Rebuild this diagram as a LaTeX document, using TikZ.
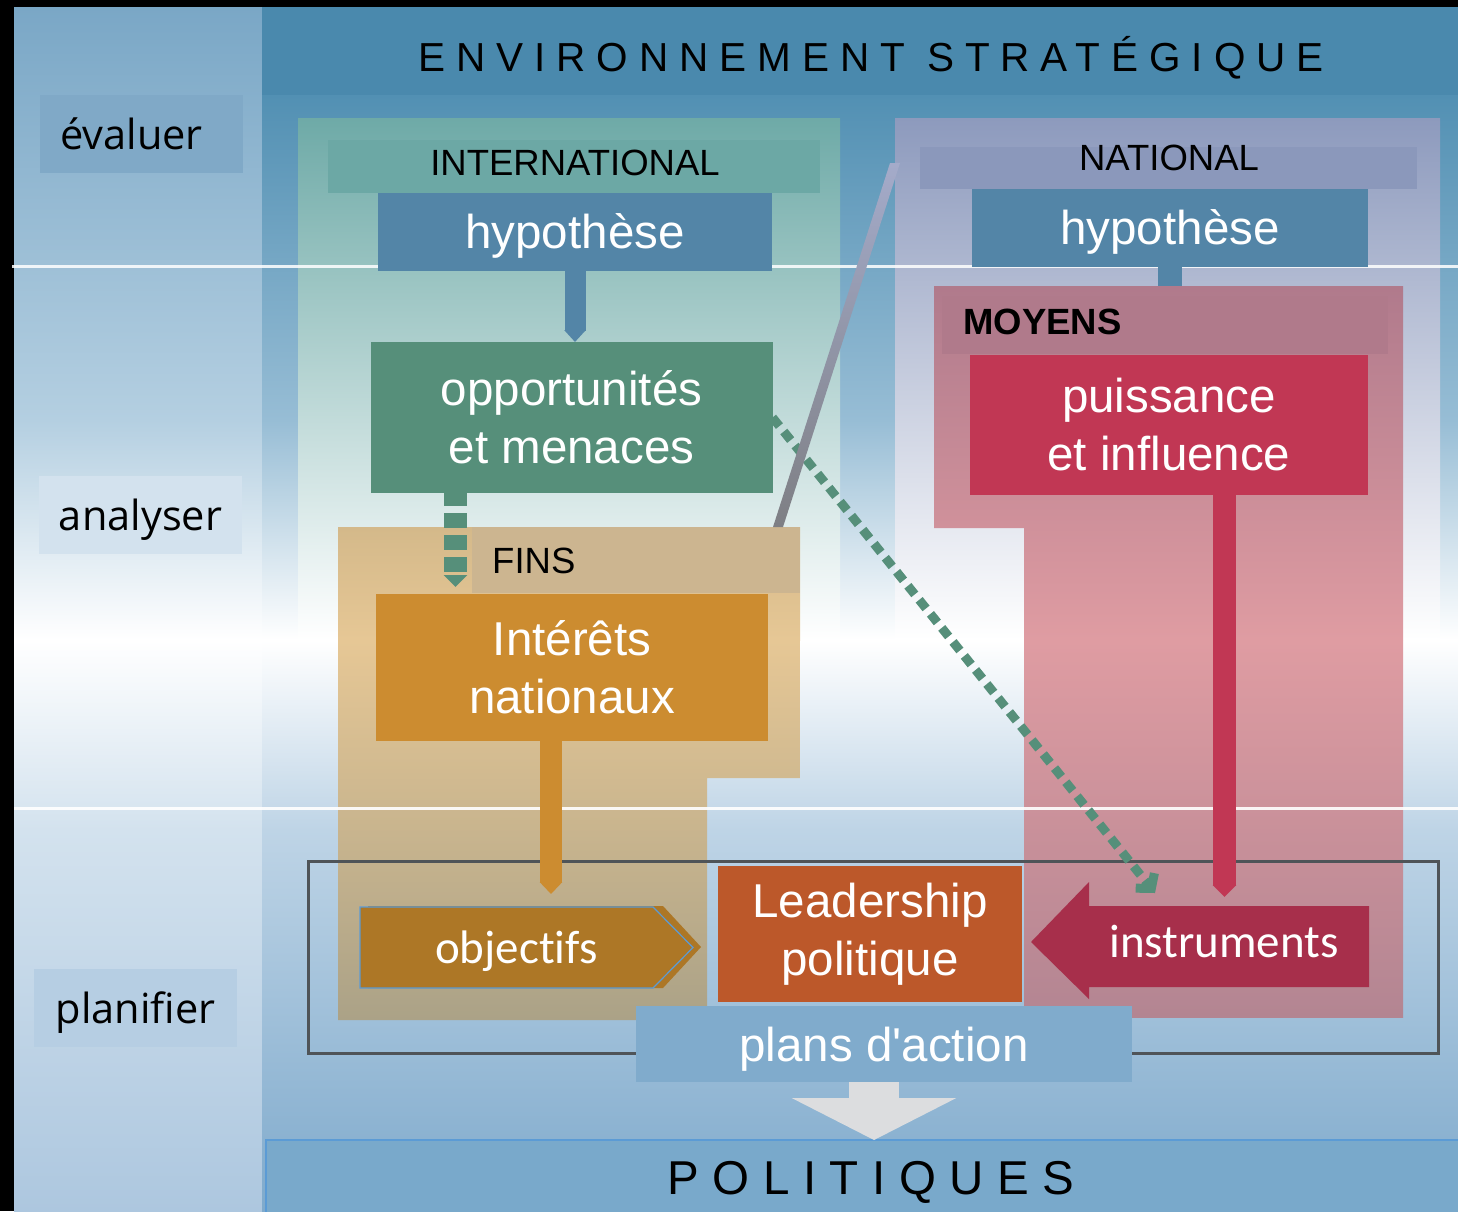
\documentclass[tikz,border=0pt]{standalone}
\usepackage{fontspec}
\setmainfont{Liberation Sans}
\newfontfamily\plainsans[Ligatures=TeXOff]{Liberation Sans}
\newfontfamily\segoe[Ligatures=NoCommon]{Open Sans}
\newfontfamily\calibri[Ligatures=NoCommon]{Carlito}
\usetikzlibrary{arrows.meta}

\definecolor{topblue}{HTML}{4A89AD}
\definecolor{bgA}{HTML}{5290B3}
\definecolor{bgB}{HTML}{97BDD5}
\definecolor{bgC}{HTML}{BED4E6}
\definecolor{bgD}{HTML}{7FAACC}
\definecolor{colA}{HTML}{7AA7C6}
\definecolor{colB}{HTML}{B4CFE1}
\definecolor{colC}{HTML}{D3E2EE}
\definecolor{colD}{HTML}{ADC7DF}
\definecolor{evalbox}{HTML}{80A9C7}
\definecolor{analbox}{HTML}{D3E2EE}
\definecolor{planbox}{HTML}{B6CEE3}
\definecolor{tealpanel}{HTML}{6EAAA7}
\definecolor{tealband}{HTML}{6CA8A5}
\definecolor{lavpanel}{HTML}{8D9ABD}
\definecolor{lavband}{HTML}{8B98BB}
\definecolor{hypblue}{HTML}{5385A7}
\definecolor{oppgreen}{HTML}{568F7A}
\definecolor{tanA}{HTML}{D4B98A}
\definecolor{tanB}{HTML}{E6C795}
\definecolor{tanC}{HTML}{ABA287}
\definecolor{finstan}{HTML}{CCB590}
\definecolor{intorange}{HTML}{CC8C30}
\definecolor{objbrown}{HTML}{AD7726}
\definecolor{objline}{HTML}{5B9BD5}
\definecolor{pinkA}{HTML}{B07A8C}
\definecolor{pinkB}{HTML}{DF9CA2}
\definecolor{pinkC}{HTML}{B38592}
\definecolor{moyband}{HTML}{B07A8B}
\definecolor{puisred}{HTML}{C13754}
\definecolor{instred}{HTML}{A72F4B}
\definecolor{leadorange}{HTML}{BC582A}
\definecolor{plansblue}{HTML}{80ABCC}
\definecolor{polblue}{HTML}{79A9CB}
\definecolor{arrowgray}{HTML}{DCDDDF}
\definecolor{framegray}{HTML}{4F5458}
\definecolor{riseA}{HTML}{A4ABCA}
\definecolor{riseB}{HTML}{7E7F84}

\begin{document}
\begin{tikzpicture}[x=1pt, y=-1pt,
    box/.style={inner sep=0pt, outer sep=0pt, text=white, align=center,
      font=\fontsize{47.5}{58}\selectfont},
    band/.style={inner sep=0pt, outer sep=0pt},
    heading/.style={inner sep=0pt, text=black, font=\fontsize{36.5}{40}\selectfont},
    verb/.style={inner sep=0pt, minimum width=203pt, minimum height=78pt,
      text depth=0pt, font=\segoe\fontsize{41.5}{48}\selectfont},
    fat/.style={line width=#1, -{Triangle[width=#1, length=12pt]}}]
    \useasboundingbox (0,0) rectangle (1458,1211);

    % Background
    \fill[black] (0,0) rectangle (1458,1211);
    \shade[top color=colA, bottom color=colB] (14,7) rectangle (262,420);
    \shade[top color=colB, bottom color=white] (14,420) rectangle (262,640);
    \shade[top color=white, bottom color=colC] (14,640) rectangle (262,830);
    \shade[top color=colC, bottom color=colD] (14,830) rectangle (262,1211);
    \shade[top color=bgA, bottom color=bgB] (262,95) rectangle (1458,420);
    \shade[top color=bgB, bottom color=white] (262,420) rectangle (1458,640);
    \shade[top color=white, bottom color=bgC] (262,640) rectangle (1458,830);
    \shade[top color=bgC, bottom color=bgD] (262,830) rectangle (1458,1211);

    % Environnement band
    \node[band, fill=topblue, minimum width=1196pt, minimum height=88pt,
      anchor=north west] (envband) at (262,7) {};
    \node[anchor=base, inner sep=0pt,
      font=\fontsize{40.5}{44}\selectfont\addfontfeature{LetterSpace=27}]
      (env) at (871,71) {ENVIRONNEMENT STRATÉGIQUE};

    % Steps
    \node[verb, fill=evalbox] (evaluer) at (141.5,133.5) {évaluer\hspace*{20pt}};
    \node[verb, fill=analbox] (analyser) at (140.5,514.5) {analyser};
    \node[verb, fill=planbox] (planifier) at (135.5,1007.5) {planifier};

    % International panel
    \node[band, minimum width=542pt, minimum height=522pt,
      top color=tealpanel, bottom color=white,
      anchor=north west] (intlpanel) at (298,118) {};
    \node[band, fill=tealband, minimum width=492pt, minimum height=53pt,
      anchor=north west] (intlband) at (328,140) {};
    \node[heading] (intl) at (575,163) {INTERNATIONAL};

    % National panel
    \node[band, minimum width=545pt, minimum height=522pt,
      top color=lavpanel, bottom color=white,
      anchor=north west] (natpanel) at (895,118) {};
    \node[band, fill=lavband, minimum width=497pt, minimum height=42pt,
      anchor=north west] (natband) at (920,147) {};
    \node[heading] (natl) at (1169,158) {NATIONAL};

    % Moyens panel
    \coordinate (moyNW) at (934,286);
    \shade[top color=pinkA, bottom color=pinkB] (moyNW) -- (1403,286) -- (1403,640)
      -- (1024,640) -- (1024,528) -- (934,528) -- cycle;
    \shade[top color=pinkB, bottom color=pinkC] (1024,640) rectangle (1403,1017);
    \node[band, fill=moyband, minimum width=446pt, minimum height=58pt,
      anchor=north west] (moyband) at (942,296) {};
    \node[heading, anchor=west, font=\fontsize{36.5}{40}\selectfont\bfseries]
      (moyens) at (963,322) {MOYENS};

    % Fins panel
    \shade[top color=tanA, bottom color=tanB] (338,527) rectangle (800,640);
    \shade[top color=tanB, bottom color=tanC] (338,640) -- (800,640) -- (800,778)
      -- (707,778) -- (707,1020) -- (338,1020) -- cycle;
    \node[band, fill=finstan, minimum width=328pt, minimum height=66pt,
      anchor=north west] (finsband) at (472,527) {};
    \node[heading, anchor=west] (fins) at (492,561) {FINS};

    % Dividers
    \draw[white, line width=3pt, opacity=0.85] (12,266) -- (1458,266);
    \draw[white, line width=3pt, opacity=0.9] (14,808) -- (1458,808);

    % Planning frame
    \node[draw=framegray, line width=3pt, minimum width=1130pt,
      minimum height=192pt, inner sep=0pt] (planframe) at (873,957) {};

    % Boxes
    \node[box, fill=hypblue, minimum width=394pt, minimum height=78pt,
      text depth=0pt] (hypI) at (575,231.5) {hypothèse};
    \node[box, fill=hypblue, minimum width=396pt, minimum height=78pt,
      text depth=0pt] (hypN) at (1170,227.5) {hypothèse};
    \node[box, fill=oppgreen, minimum width=402pt, minimum height=151pt]
      (opp) at (571.5,417.5) {opportunités\\et menaces};
    \node[box, fill=intorange, minimum width=392pt, minimum height=147pt]
      (interets) at (572,667.5) {Intérêts\\nationaux};
    \node[box, fill=puisred, minimum width=398pt, minimum height=140pt]
      (puiss) at (1169,425) {puissance\\et influence};
    \node[box, fill=leadorange, minimum width=304pt, minimum height=136pt]
      (leader) at (870,934) {Leadership\\politique};

    % Objectifs and instruments
    \fill[objbrown] (368,906) -- (663,906) -- (701,947) -- (663,988) -- (368,988) -- cycle;
    \filldraw[fill=objbrown, draw=objline, line width=1.2pt]
      (360,907) -- (653,907) -- (693,947.5) -- (653,988) -- (360,988) -- cycle;
    \node[box, minimum width=293pt, minimum height=81pt, text depth=0pt,
      font=\calibri\fontsize{47}{56}\selectfont]
      (objectifs) at (506.5,947.5) {\hspace*{20pt}objectifs};
    \fill[instred] (1369,906) -- (1089,906) -- (1089,882) -- (1031,942)
      -- (1089,999) -- (1089,987) -- (1369,987) -- cycle;
    \node[box, minimum width=280pt, minimum height=70pt, text depth=0pt,
      font=\calibri\fontsize{47}{56}\selectfont]
      (instruments) at (1224,941) {instruments};

    % Plans and politiques
    \node[box, fill=plansblue, minimum width=496pt, minimum height=76pt,
      text depth=0pt, font=\plainsans\fontsize{47.5}{58}\selectfont]
      (plans) at (884,1044) {plans d'action};
    \node[band, fill=polblue, draw=objline, line width=1.5pt,
      minimum width=1196pt, minimum height=74pt,
      anchor=north west] (polband) at (266,1140) {};
    \node[anchor=base, inner sep=0pt,
      font=\fontsize{47.5}{50}\selectfont\addfontfeature{LetterSpace=28.5}]
      (pol) at (871,1194) {POLITIQUES};

    % Arrows
    \draw[fat=21pt, hypblue] (hypI.south) -- (hypI.south |- opp.north);
    \draw[line width=24pt, hypblue] (hypN.south) -- (hypN.south |- moyNW);
    \coordinate (oppdash) at ([xshift=-116pt]opp.south);
    \draw[fat=23pt, oppgreen, dash pattern=on 15pt off 7pt, dash phase=2pt,
      shorten >=7pt] (oppdash) -- (oppdash |- interets.north);
    \coordinate (intdrop) at ([xshift=-21pt]interets.south);
    \draw[fat=22pt, intorange, shorten >=13pt] (intdrop) -- (intdrop |- objectifs.north);
    \coordinate (puisdrop) at ([xshift=55.5pt]puiss.south);
    \draw[fat=23pt, puisred, shorten >=9pt] (puisdrop) -- (puisdrop |- instruments.north);
    \draw[oppgreen, line width=9pt, dash pattern=on 11pt off 7pt,
      -{Straight Barb[length=10pt, width=24pt]}]
      (opp.east) -- ([xshift=-69pt,yshift=13pt]instruments.north);
    \shade[top color=riseA, bottom color=riseB]
      ([xshift=-27pt]finsband.north east) -- ([xshift=-17pt]finsband.north east)
      -- ([xshift=5pt,yshift=-45pt]natpanel.north west)
      -- ([xshift=-5pt,yshift=-45pt]natpanel.north west) -- cycle;
    \coordinate (plansdrop) at ([xshift=-10pt]plans.south);
    \draw[line width=50pt, arrowgray, -{Triangle[width=163pt, length=42pt]}]
      (plansdrop) -- (plansdrop |- polband.north);
\end{tikzpicture}
\end{document}
